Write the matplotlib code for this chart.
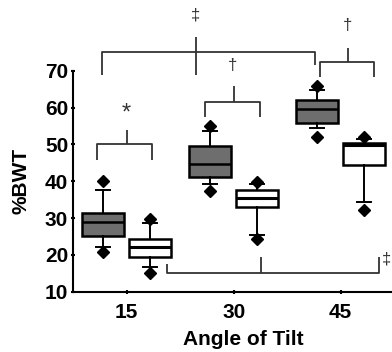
import matplotlib
matplotlib.use("Agg")
import matplotlib.pyplot as plt

plt.rcParams['font.family'] = ['Liberation Sans', 'DejaVu Sans']

# angle of tilt groups
angles = [15, 30, 45]

# dark boxes (left of each tick): whislo, q1, med, q3, whishi
dark_lo = [22.2, 39.2, 54.5]
dark_q1 = [25.2, 41.3, 55.9]
dark_med = [28.9, 44.7, 59.7]
dark_q3 = [31.3, 49.6, 62.1]
dark_hi = [37.6, 53.8, 64.8]
dark_fliers = [[20.9, 40.2], [37.4, 55.0], [52.1, 65.9]]

# white boxes (right of each tick)
white_lo = [16.6, 25.4, 34.5]
white_q1 = [19.3, 33.1, 44.4]
white_med = [22.2, 35.5, 49.9]
white_q3 = [24.2, 37.6, 50.5]
white_hi = [28.6, 39.3, 51.5]
white_fliers = [[15.0, 29.7], [24.3, 39.9], [32.2, 52.0]]

# significance brackets: x0, x1, bar y, left leg end, right leg end, stem x, stem end, label, label x, label y
brackets = [
    (10.9, 18.5, 50.1, 45.8, 45.8, 15.0, 53.9, '*', 15.0, 58.4),
    (26.0, 33.7, 61.6, 57.6, 57.6, 30.0, 65.9, '\u2020', 29.8, 71.6),
    (11.6, 41.4, 75.1, 68.9, 71.6, 24.7, 79.3, '\u2021', 24.7, 85.2),
    (42.1, 49.7, 72.3, 68.3, 68.3, 46.0, 76.3, '\u2020', 46.0, 82.2),
    (20.6, 50.4, 15.2, 17.5, 19.3, 33.8, 19.5, '\u2021', 50.8, 18.9),
]

offset = 3.3
width = 5.9


def make_stats(lo, q1, med, q3, hi, fl):
    return [dict(whislo=a, q1=b, med=c, q3=d, whishi=e, fliers=f)
            for a, b, c, d, e, f in zip(lo, q1, med, q3, hi, fl)]


fig = plt.figure(figsize=(3.92, 3.52), dpi=100)
ax = fig.add_axes([0.1855, 0.1713, 0.8145, 0.6273])

flier = dict(marker='D', markerfacecolor='black', markeredgecolor='black', markersize=6)
common = dict(widths=width, capwidths=2.0, patch_artist=True, flierprops=flier,
              whiskerprops=dict(color='black', lw=1.4),
              capprops=dict(color='black', lw=1.4))

ax.bxp(make_stats(dark_lo, dark_q1, dark_med, dark_q3, dark_hi, dark_fliers),
       positions=[a - offset for a in angles],
       boxprops=dict(facecolor='#6e6e6e', edgecolor='black', lw=1.8),
       medianprops=dict(color='black', lw=1.8), **common)
ax.bxp(make_stats(white_lo, white_q1, white_med, white_q3, white_hi, white_fliers),
       positions=[a + offset for a in angles],
       boxprops=dict(facecolor='white', edgecolor='black', lw=1.8),
       medianprops=dict(color='black', lw=2.2), **common)

for i, (x0, x1, y, yl, yr, sx, sy, lab, lx, ly) in enumerate(brackets):
    kw = dict(color='#333333', lw=1.3, clip_on=False, solid_capstyle='butt')
    ax.plot([x0, x0, x1, x1], [yl, y, y, yr], **kw)
    # the long top bracket has a stem crossing the bar
    ax.plot([sx, sx], [yl if i == 2 else y, sy], **kw)
    ax.text(lx, ly, lab, ha='left' if i == 4 else 'center', va='center',
            fontsize=17 if lab == '*' else 12, color='#333333', clip_on=False)

ax.set_xlim(7.43, 52.2)
ax.set_ylim(10, 70)
ax.set_xticks(angles)
ax.set_xticklabels([str(a) for a in angles])
ax.set_yticks(range(10, 71, 10))
for s in ['top', 'right']:
    ax.spines[s].set_visible(False)
for s in ['left', 'bottom']:
    ax.spines[s].set_linewidth(1.5)
ax.tick_params(axis='both', length=2.5, width=1.5, direction='inout', labelsize=15)
ax.tick_params(axis='x', pad=7)
ax.tick_params(axis='y', pad=2)
for t in ax.get_xticklabels() + ax.get_yticklabels():
    t.set_fontweight('bold')
ax.set_xlabel('Angle of Tilt', fontsize=15, fontweight='bold')
ax.xaxis.set_label_coords(0.533, -0.175)
ax.set_ylabel('%BWT', fontsize=15, fontweight='bold')
ax.yaxis.set_label_coords(-0.133, 0.5)

fig.savefig('out.png', dpi=100)
